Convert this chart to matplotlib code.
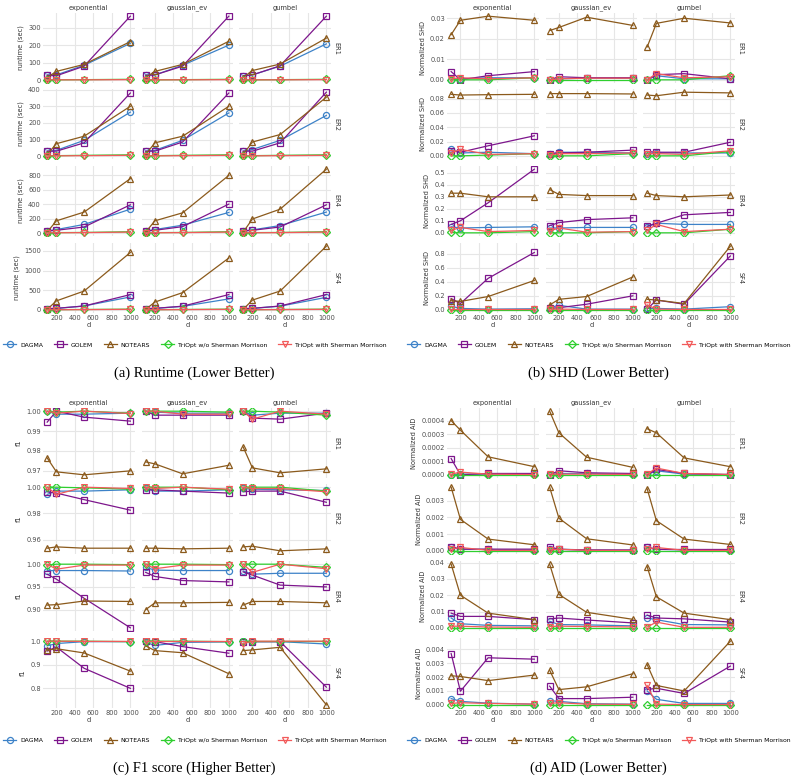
import matplotlib
matplotlib.use("Agg")
import matplotlib.pyplot as plt
from matplotlib.lines import Line2D
from matplotlib.ticker import FormatStrFormatter

plt.rcParams['font.family'] = ['DejaVu Sans']

# x values and facet names
D = [100, 200, 500, 1000]
NOISES = ["exponential", "gaussian_ev", "gumbel"]
GRAPHS = ["ER1", "ER2", "ER4", "SF4"]
METHODS = ["DAGMA", "GOLEM", "NOTEARS",
           "TriOpt w/o Sherman Morrison", "TriOpt with Sherman Morrison"]
COLORS = ["#3d82c8", "#7d168c", "#8b5a1c", "#2fcf2f", "#f25a5a"]
MARKERS = ["o", "s", "^", "D", "v"]

# ---- runtime (sec), [graph][noise][d]
rt_dagma = [[[30, 30, 85, 210], [30, 30, 85, 200], [25, 30, 80, 207]],
            [[30, 35, 95, 265], [30, 35, 95, 260], [30, 40, 95, 245]],
            [[30, 50, 120, 330], [30, 50, 110, 285], [30, 45, 105, 290]],
            [[30, 40, 100, 330], [30, 40, 90, 280], [30, 40, 95, 320]]]
rt_golem = [[[28, 25, 80, 365], [28, 30, 80, 365], [25, 30, 82, 365]],
            [[30, 30, 80, 380], [30, 30, 85, 380], [30, 30, 80, 385]],
            [[30, 40, 85, 390], [30, 40, 90, 400], [30, 40, 85, 390]],
            [[30, 40, 100, 390], [30, 40, 95, 390], [30, 40, 100, 390]]]
rt_notears = [[[15, 50, 90, 220], [15, 50, 90, 222], [15, 55, 92, 240]],
              [[10, 75, 120, 300], [10, 80, 120, 300], [10, 85, 130, 355]],
              [[15, 170, 290, 750], [15, 170, 280, 795], [15, 195, 330, 880]],
              [[15, 230, 480, 1460], [15, 200, 440, 1320], [15, 250, 480, 1620]]]
rt_tri_wo = [[[2, 2, 3, 5], [2, 2, 3, 5], [2, 2, 3, 5]],
             [[2, 3, 5, 8], [2, 3, 5, 8], [2, 3, 5, 8]],
             [[5, 8, 10, 20], [5, 8, 10, 20], [5, 8, 10, 20]],
             [[5, 8, 12, 20], [5, 8, 12, 20], [5, 8, 12, 20]]]
rt_tri_sm = [[[2, 2, 2, 3], [2, 2, 2, 3], [2, 2, 2, 3]],
             [[2, 2, 3, 5], [2, 2, 3, 5], [2, 2, 3, 5]],
             [[5, 6, 8, 15], [5, 6, 8, 15], [5, 6, 8, 15]],
             [[3, 5, 8, 15], [3, 5, 8, 15], [3, 5, 8, 15]]]
rt_yticks = [[0, 100, 200, 300], [0, 100, 200, 300, 400],
             [0, 200, 400, 600, 800], [0, 500, 1000, 1500]]
rt_fmt = ['%d', '%d', '%d', '%d']

# ---- normalized SHD
shd_dagma = [[[0.0, 0.0005, 0.001, 0.001], [0.0, 0.0005, 0.0008, 0.0008], [0.0, 0.002, 0.0005, 0.0005]],
             [[0.009, 0.004, 0.005, 0.003], [0.002, 0.005, 0.005, 0.004], [0.003, 0.004, 0.004, 0.004]],
             [[0.05, 0.04, 0.045, 0.05], [0.04, 0.04, 0.045, 0.045], [0.05, 0.08, 0.07, 0.07]],
             [[0.05, 0.02, 0.01, 0.015], [0.03, 0.065, 0.01, 0.01], [0.02, 0.02, 0.01, 0.045]]]
shd_golem = [[[0.004, 0.0, 0.002, 0.004], [0.0, 0.0015, 0.001, 0.001], [0.0, 0.0025, 0.003, 0.0005]],
             [[0.007, 0.005, 0.014, 0.028], [0.003, 0.004, 0.005, 0.008], [0.006, 0.005, 0.005, 0.019]],
             [[0.07, 0.10, 0.25, 0.53], [0.06, 0.085, 0.11, 0.125], [0.055, 0.08, 0.15, 0.17]],
             [[0.16, 0.09, 0.45, 0.82], [0.02, 0.03, 0.08, 0.20], [0.01, 0.14, 0.08, 0.77]]]
shd_notears = [[[0.022, 0.029, 0.031, 0.029], [0.024, 0.0255, 0.0305, 0.0265], [0.016, 0.0275, 0.030, 0.0277]],
               [[0.086, 0.085, 0.0855, 0.086], [0.087, 0.087, 0.087, 0.0865], [0.085, 0.084, 0.089, 0.088]],
               [[0.33, 0.33, 0.30, 0.30], [0.36, 0.32, 0.31, 0.31], [0.33, 0.31, 0.30, 0.315]],
               [[0.13, 0.12, 0.19, 0.42], [0.07, 0.15, 0.19, 0.47], [0.15, 0.14, 0.09, 0.91]]]
shd_tri_wo = [[[0.0, 0.0, 0.0, 0.001], [0.0, 0.0, 0.0, 0.0], [0.0, 0.0, 0.0, 0.002]],
              [[0.0, 0.0, 0.001, 0.003], [0.0, 0.0, 0.0, 0.003], [0.0, 0.0, 0.0, 0.006]],
              [[0.005, 0.0, 0.0, 0.01], [0.0, 0.0, 0.0, 0.01], [0.0, 0.0, 0.0, 0.03]],
              [[0.0, 0.0, 0.0, 0.0], [0.0, 0.0, 0.0, 0.0], [0.0, 0.0, 0.0, 0.0]]]
shd_tri_sm = [[[0.0005, 0.001, 0.0005, 0.001], [0.0, 0.0005, 0.0008, 0.0008], [0.0, 0.003, 0.001, 0.0015]],
              [[0.004, 0.009, 0.002, 0.003], [0.001, 0.003, 0.003, 0.004], [0.003, 0.003, 0.002, 0.007]],
              [[0.02, 0.045, 0.01, 0.02], [0.015, 0.04, 0.005, 0.01], [0.02, 0.07, 0.01, 0.03]],
              [[0.01, 0.01, 0.01, 0.01], [0.01, 0.01, 0.005, 0.005], [0.07, 0.01, 0.005, 0.005]]]
shd_yticks = [[0.0, 0.01, 0.02, 0.03], [0.0, 0.02, 0.04, 0.06, 0.08],
              [0.0, 0.1, 0.2, 0.3, 0.4, 0.5], [0.0, 0.2, 0.4, 0.6, 0.8]]
shd_fmt = ['%.2f', '%.2f', '%.1f', '%.1f']

# ---- F1 score
f1_dagma = [[[1.0, 0.9985, 0.9985, 0.999], [1.0, 0.9995, 0.999, 0.999], [1.0, 0.998, 0.999, 0.999]],
            [[0.9945, 0.997, 0.997, 0.998], [0.999, 0.997, 0.997, 0.998], [0.999, 0.9985, 0.998, 0.9975]],
            [[0.986, 0.986, 0.986, 0.985], [0.993, 0.987, 0.986, 0.986], [0.985, 0.978, 0.980, 0.980]],
            [[0.980, 0.990, 0.998, 0.998], [0.995, 0.982, 0.995, 0.997], [1.0, 0.998, 0.998, 0.988]]]
f1_golem = [[[0.9945, 1.0, 0.997, 0.995], [1.0, 0.998, 0.998, 0.998], [1.0, 0.9965, 0.996, 0.999]],
            [[0.9965, 0.9955, 0.9905, 0.9825], [0.998, 0.998, 0.997, 0.9955], [0.9965, 0.997, 0.997, 0.9885]],
            [[0.978, 0.967, 0.925, 0.860], [0.982, 0.973, 0.964, 0.961], [0.983, 0.976, 0.954, 0.950]],
            [[0.958, 0.975, 0.885, 0.800], [1.0, 0.998, 0.977, 0.949], [0.998, 0.998, 0.998, 0.805]]]
f1_notears = [[[0.9765, 0.9695, 0.968, 0.970], [0.9745, 0.9735, 0.9685, 0.9728], [0.982, 0.9715, 0.969, 0.971]],
              [[0.9535, 0.9545, 0.9535, 0.9535], [0.9535, 0.9535, 0.953, 0.9535], [0.9545, 0.955, 0.9515, 0.953]],
              [[0.910, 0.911, 0.919, 0.918], [0.900, 0.915, 0.915, 0.916], [0.910, 0.918, 0.918, 0.915]],
              [[0.962, 0.968, 0.950, 0.873], [0.980, 0.960, 0.951, 0.862], [0.960, 0.963, 0.974, 0.730]]]
f1_tri_wo = [[[1.0, 0.9995, 1.0, 0.999], [1.0, 1.0, 1.0, 0.9995], [1.0, 1.0, 0.9995, 0.998]],
             [[1.0, 1.0, 0.9995, 0.9985], [1.0, 1.0, 1.0, 0.998], [1.0, 1.0, 1.0, 0.997]],
             [[0.998, 1.0, 1.0, 0.999], [1.0, 1.0, 1.0, 0.999], [1.0, 1.0, 1.0, 0.993]],
             [[1.0, 1.0, 1.0, 0.998], [1.0, 1.0, 1.0, 0.998], [1.0, 1.0, 1.0, 1.0]]]
f1_tri_sm = [[[1.0, 0.999, 1.0, 0.9988], [1.0, 1.0, 0.9985, 0.9985], [1.0, 0.996, 1.0, 0.9985]],
             [[1.0, 0.9945, 1.0, 0.999], [1.0, 0.999, 1.0, 0.9985], [1.0, 0.999, 0.999, 0.9965]],
             [[1.0, 0.989, 0.998, 0.998], [1.0, 0.990, 0.998, 0.998], [1.0, 0.982, 1.0, 0.990]],
             [[1.0, 1.0, 0.999, 0.999], [1.0, 1.0, 1.0, 1.0], [0.990, 1.0, 1.0, 1.0]]]
f1_yticks = [[0.97, 0.98, 0.99, 1.00], [0.96, 0.98, 1.00],
             [0.90, 0.95, 1.00], [0.8, 0.9, 1.0]]
f1_fmt = ['%.2f', '%.2f', '%.2f', '%.1f']

# ---- normalized AID
aid_dagma = [[[0.0, 0.000005, 0.000005, 0.000005], [0.0, 0.00001, 0.00001, 0.000005], [0.0, 0.00003, 0.000005, 0.000003]],
             [[0.0002, 0.0001, 0.00008, 0.00005], [0.0001, 0.0001, 0.00005, 0.00003], [0.0002, 0.0001, 0.00005, 0.00003]],
             [[0.006, 0.0025, 0.0015, 0.0012], [0.004, 0.002, 0.0018, 0.0012], [0.006, 0.005, 0.002, 0.0018]],
             [[0.00045, 0.00025, 0.00012, 0.00005], [0.0003, 0.00025, 0.00008, 0.00005], [0.001, 0.0004, 0.0001, 0.0001]]]
aid_golem = [[[0.00012, 0.0, 0.00001, 0.00001], [0.0, 0.00003, 0.000015, 0.00001], [0.0, 0.00004, 0.00001, 0.0]],
             [[0.00025, 0.0001, 0.0001, 0.0001], [0.00025, 0.00008, 0.00005, 0.00005], [0.0002, 0.00008, 0.00008, 0.00008]],
             [[0.009, 0.007, 0.007, 0.005], [0.0055, 0.006, 0.0048, 0.003], [0.0078, 0.006, 0.0055, 0.0035]],
             [[0.0037, 0.00098, 0.0034, 0.0033], [0.00135, 0.00045, 0.00045, 0.00055], [0.0011, 0.0012, 0.00082, 0.0028]]]
aid_notears = [[[0.0004, 0.00033, 0.000133, 0.00006], [0.00047, 0.00031, 0.00013, 0.000055], [0.00034, 0.00031, 0.000125, 0.00006]],
               [[0.0038, 0.00188, 0.0007, 0.00036], [0.0038, 0.00195, 0.00072, 0.00035], [0.0037, 0.0018, 0.0007, 0.00038]],
               [[0.039, 0.020, 0.009, 0.005], [0.039, 0.0205, 0.0095, 0.0052], [0.0375, 0.019, 0.009, 0.005]],
               [[0.0021, 0.00205, 0.00175, 0.00215], [0.0025, 0.0011, 0.0013, 0.00225], [0.0029, 0.0014, 0.001, 0.0046]]]
aid_tri_wo = [[[0.0, 0.0, 0.0, 0.0], [0.0, 0.0, 0.0, 0.0], [0.0, 0.0, 0.0, 0.0]],
              [[0.0, 0.0, 0.0, 0.0], [0.0, 0.0, 0.0, 0.0], [0.0, 0.0, 0.0, 0.0]],
              [[0.0, 0.0, 0.0, 0.0], [0.0, 0.0, 0.0, 0.0], [0.0, 0.0, 0.0, 0.0]],
              [[0.0, 0.0, 0.0, 0.0], [0.0, 0.0, 0.0, 0.0], [0.0, 0.0, 0.0, 0.0]]]
aid_tri_sm = [[[0.000005, 0.00002, 0.000005, 0.000002], [0.000005, 0.000005, 0.000005, 0.000003], [0.000005, 0.00005, 0.00001, 0.000003]],
              [[0.0001, 0.0002, 0.00003, 0.00002], [0.00005, 0.0001, 0.00003, 0.00002], [0.0001, 0.0002, 0.00003, 0.00002]],
              [[0.001, 0.001, 0.0005, 0.0003], [0.0008, 0.001, 0.0008, 0.0005], [0.0005, 0.0035, 0.0003, 0.0003]],
              [[0.0001, 0.00015, 0.0001, 0.00005], [0.0001, 0.00015, 0.00005, 0.00003], [0.0014, 0.00005, 0.00002, 0.00002]]]
aid_yticks = [[0.0, 0.0001, 0.0002, 0.0003, 0.0004], [0.0, 0.001, 0.002, 0.003],
              [0.0, 0.01, 0.02, 0.03, 0.04], [0.0, 0.001, 0.002, 0.003, 0.004]]
aid_fmt = ['%.4f', '%.3f', '%.2f', '%.3f']

W, H = 793, 783
fig = plt.figure(figsize=(W / 100, H / 100), dpi=100)
FS = 4.8
LEG_FS = 4.4
COL_LEFT = [0, 98.5, 196]
COL_W = 91.5
ROW_TOP = [0, 76, 153, 230]
ROW_H = 70


def draw_panel(x0, y0, series, yticks, yfmt, ylabel, caption):
    first = None
    for r in range(4):
        row_ax = None
        for c in range(3):
            left = (x0 + COL_LEFT[c]) / W
            bottom = 1 - (y0 + ROW_TOP[r] + ROW_H) / H
            ax = fig.add_axes([left, bottom, COL_W / W, ROW_H / H],
                              sharex=first, sharey=row_ax)
            if first is None:
                first = ax
            if row_ax is None:
                row_ax = ax
            for m in range(5):
                ax.plot(D, series[m][r][c], color=COLORS[m], lw=0.9,
                        marker=MARKERS[m], ms=4.4, mfc='none', mew=0.9)
            for s in ax.spines.values():
                s.set_visible(False)
            ax.grid(True, color='#e6e6e6', lw=0.8)
            ax.set_axisbelow(True)
            ax.set_xticks([200, 400, 600, 800, 1000])
            ax.set_yticks(yticks[r])
            ax.yaxis.set_major_formatter(FormatStrFormatter(yfmt[r]))
            ax.tick_params(length=0, pad=1.5, labelsize=FS, colors='#4d4d4d')
            if c > 0:
                ax.tick_params(labelleft=False)
            else:
                ax.set_ylabel(ylabel, fontsize=FS, color='#333333', labelpad=3)
            if r < 3:
                ax.tick_params(labelbottom=False)
            else:
                ax.set_xlabel('d', fontsize=FS, color='#333333', labelpad=1)
            if r == 0:
                ax.set_title(NOISES[c], fontsize=FS, color='#333333', pad=2.5)
            if c == 2:
                ax.text(1.03, 0.5, GRAPHS[r], transform=ax.transAxes,
                        rotation=-90, va='center', ha='left', fontsize=FS,
                        color='#333333')
    handles = [Line2D([], [], color=COLORS[m], lw=0.9, marker=MARKERS[m],
                      ms=4.4, mfc='none', mew=0.9) for m in range(5)]
    fig.legend(handles, METHODS, loc='center', ncol=5, frameon=False,
               fontsize=LEG_FS, handlelength=2.1, handletextpad=0.65,
               columnspacing=1.8,
               bbox_to_anchor=((x0 + 152) / W, 1 - (y0 + 332) / H))
    fig.text((x0 + 151) / W, 1 - (y0 + 360) / H, caption, ha='center',
             va='center', fontsize=10.5, family='Liberation Serif')


draw_panel(43, 13, [rt_dagma, rt_golem, rt_notears, rt_tri_wo, rt_tri_sm],
           rt_yticks, rt_fmt, 'runtime (sec)', '(a) Runtime (Lower Better)')
draw_panel(447, 13, [shd_dagma, shd_golem, shd_notears, shd_tri_wo, shd_tri_sm],
           shd_yticks, shd_fmt, 'Normalized SHD', '(b) SHD (Lower Better)')
draw_panel(43, 408, [f1_dagma, f1_golem, f1_notears, f1_tri_wo, f1_tri_sm],
           f1_yticks, f1_fmt, 'f1', '(c) F1 score (Higher Better)')
draw_panel(447, 408, [aid_dagma, aid_golem, aid_notears, aid_tri_wo, aid_tri_sm],
           aid_yticks, aid_fmt, 'Normalized AID', '(d) AID (Lower Better)')

fig.savefig('out.png', dpi=100)
